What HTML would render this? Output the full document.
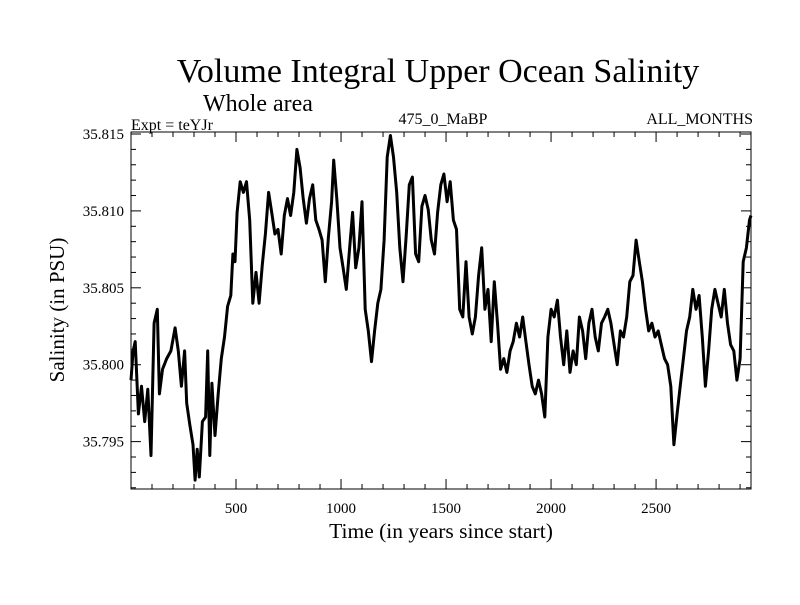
<!DOCTYPE html>
<html><head><meta charset="utf-8"><style>
body{margin:0;background:#fff;}
svg text{font-family:"Liberation Serif",serif;fill:#000;}
</style></head><body>
<svg id="chart" width="800" height="600">
<rect width="800" height="600" fill="#fff"/>
<text x="438" y="82" font-size="34" text-anchor="middle">Volume Integral Upper Ocean Salinity</text>
<text x="203" y="111" font-size="24">Whole area</text>
<text x="131" y="130" font-size="16">Expt = teYJr</text>
<text x="443" y="124" font-size="16" text-anchor="middle">475_0_MaBP</text>
<text x="753" y="124" font-size="16" text-anchor="end">ALL_MONTHS</text>
<text x="441" y="538" font-size="21.5" text-anchor="middle">Time (in years since start)</text>
<text transform="translate(64,310) rotate(-90)" font-size="21" text-anchor="middle">Salinity (in PSU)</text>
<g id="axes"></g>
<path id="series" fill="none" stroke="#000" stroke-width="3" stroke-linejoin="round"/>
<rect x="131" y="132" width="620" height="357" fill="none" stroke="#000" stroke-width="1"/>
</svg>
<script>
const years=[0,10,20,35,50,65,80,95,110,125,135,150,170,190,210,225,240,255,265,280,295,305,315,325,340,355,365,375,385,400,415,430,445,460,475,485,495,505,520,535,550,565,580,595,610,625,640,655,670,685,700,715,730,745,760,775,790,805,820,835,850,865,880,895,910,925,940,955,965,980,995,1010,1025,1040,1055,1070,1085,1100,1115,1130,1145,1160,1175,1190,1205,1220,1235,1250,1265,1280,1295,1310,1325,1340,1355,1370,1385,1400,1415,1430,1445,1460,1475,1490,1505,1520,1535,1550,1565,1580,1595,1610,1625,1640,1655,1670,1685,1700,1715,1730,1745,1760,1775,1790,1805,1820,1835,1850,1865,1880,1895,1910,1925,1940,1955,1970,1985,2000,2015,2030,2045,2060,2075,2090,2105,2120,2135,2150,2165,2180,2195,2210,2225,2240,2255,2270,2285,2300,2315,2330,2345,2360,2375,2390,2405,2420,2435,2450,2465,2480,2495,2510,2525,2540,2555,2570,2585,2600,2615,2630,2645,2660,2675,2690,2705,2720,2735,2750,2765,2780,2795,2810,2825,2840,2855,2870,2885,2900,2915,2930,2945,2952];
const salinity=[35.7990,35.8009,35.8015,35.7968,35.7986,35.7963,35.7984,35.7941,35.8027,35.8036,35.7981,35.7997,35.8004,35.8009,35.8024,35.8009,35.7986,35.8009,35.7975,35.7961,35.7948,35.7925,35.7945,35.7927,35.7963,35.7966,35.8009,35.7941,35.7988,35.7954,35.7981,35.8004,35.8018,35.8038,35.8045,35.8072,35.8067,35.8099,35.8119,35.8112,35.8119,35.8094,35.8040,35.8060,35.8040,35.8065,35.8085,35.8112,35.8099,35.8085,35.8088,35.8072,35.8097,35.8108,35.8097,35.8112,35.8140,35.8128,35.8108,35.8092,35.8108,35.8117,35.8094,35.8088,35.8081,35.8054,35.8083,35.8106,35.8133,35.8108,35.8076,35.8063,35.8049,35.8074,35.8099,35.8063,35.8076,35.8106,35.8036,35.8022,35.8002,35.8022,35.8040,35.8049,35.8081,35.8135,35.8149,35.8135,35.8112,35.8076,35.8054,35.8083,35.8117,35.8122,35.8072,35.8067,35.8103,35.8110,35.8101,35.8081,35.8072,35.8099,35.8117,35.8124,35.8106,35.8119,35.8094,35.8088,35.8036,35.8031,35.8067,35.8031,35.8020,35.8031,35.8058,35.8076,35.8036,35.8049,35.8015,35.8054,35.8027,35.7997,35.8004,35.7995,35.8009,35.8015,35.8027,35.8018,35.8031,35.8015,35.8000,35.7986,35.7981,35.7990,35.7981,35.7966,35.8018,35.8036,35.8031,35.8042,35.8018,35.8000,35.8022,35.7995,35.8009,35.8000,35.8031,35.8022,35.8004,35.8027,35.8036,35.8018,35.8009,35.8027,35.8031,35.8036,35.8027,35.8013,35.8000,35.8022,35.8018,35.8031,35.8054,35.8058,35.8081,35.8067,35.8054,35.8036,35.8022,35.8027,35.8018,35.8022,35.8013,35.8004,35.8000,35.7986,35.7948,35.7968,35.7986,35.8004,35.8022,35.8031,35.8049,35.8036,35.8045,35.8018,35.7986,35.8009,35.8036,35.8049,35.8040,35.8031,35.8049,35.8027,35.8013,35.8009,35.7990,35.8004,35.8067,35.8076,35.8094,35.8097];
const xMajorTicks=[500,1000,1500,2000,2500];
const yMajorTicks=[35.795,35.800,35.805,35.810,35.815];
const yLabels=["35.795","35.800","35.805","35.810","35.815"];
const xMin=0,xMax=2952,yMin=35.79192,yMax=35.81513;
const L=131,R=751,T=132,B=489;
const sx=v=>L+(v-xMin)/(xMax-xMin)*(R-L);
const sy=v=>B-(v-yMin)/(yMax-yMin)*(B-T);
const NS="http://www.w3.org/2000/svg";
const ax=document.getElementById('axes');
function line(x1,y1,x2,y2,name){const l=document.createElementNS(NS,'line');l.setAttribute('x1',x1);l.setAttribute('y1',y1);l.setAttribute('x2',x2);l.setAttribute('y2',y2);l.setAttribute('stroke','#000');l.setAttribute('stroke-width','1');


ax.appendChild(l);}
function text(x,y,s,anchor,name){const t=document.createElementNS(NS,'text');t.setAttribute('x',x);t.setAttribute('y',y);t.setAttribute('font-size','15');t.setAttribute('text-anchor',anchor);t.textContent=s;


ax.appendChild(t);}
for(let v=100;v<xMax;v+=100){const x=sx(v);const maj=v%500===0;const len=maj?10:5;line(x,B,x,B-len,'x-tick');line(x,T,x,T+len,'x-tick-top');}
xMajorTicks.forEach(v=>text(sx(v),513,String(v),'middle','x-tick-label'));
for(let i=0;i<=23;i++){const v=35.792+i*0.001;if(v<yMin||v>yMax)continue;const y=sy(v);const maj=Math.abs(Math.round(v*1000)%5)===0;const len=maj?10:5;line(L,y,L+len,y,'y-tick');line(R,y,R-len,y,'y-tick-right');}
yMajorTicks.forEach((v,i)=>text(124,sy(v)+5,yLabels[i],'end','y-tick-label'));
let d='';years.forEach((yr,i)=>{d+=(i?'L':'M')+sx(yr).toFixed(1)+','+sy(salinity[i]).toFixed(1);});
document.getElementById('series').setAttribute('d',d);
</script>
</body></html>
